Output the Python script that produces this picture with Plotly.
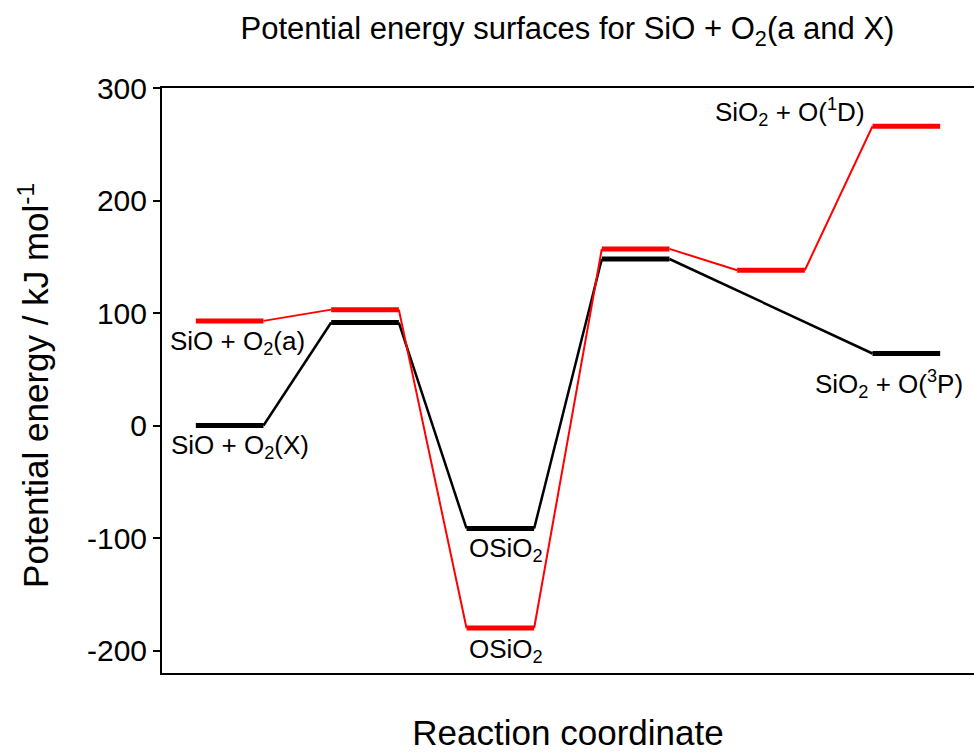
import plotly.graph_objects as go

# Reaction stages along the coordinate (1..6) and energies in kJ/mol
stages = [1, 2, 3, 4, 5, 6]
singlet_energy = [93, 103, -180, 157, 138, 266]       # SiO + O2(a) surface (red)
triplet_stages = [1, 2, 3, 4, 6]
triplet_energy = [0, 91.5, -91.5, 148, 64]            # SiO + O2(X) surface (black)

energy_ticks = [-200, -100, 0, 100, 200, 300]
energy_tick_text = ["-200", "-100", "0", "100", "200", "300"]

labels = [
    ("SiO + O<sub>2</sub>(a)", 1.06, 74),
    ("SiO + O<sub>2</sub>(X)", 1.08, -19),
    ("OSiO<sub>2</sub>", 3.04, -110),
    ("OSiO<sub>2</sub>", 3.04, -200),
    ("SiO<sub>2</sub> + O(<sup>1</sup>D)", 5.14, 279),
    ("SiO<sub>2</sub> + O(<sup>3</sup>P)", 5.87, 37),
]

HALF = 0.25  # half-width of each energy level bar


def surface_traces(xs, ys, color, conn_width):
    traces = []
    # thin connectors from the end of one level to the start of the next
    cx, cy = [], []
    for i in range(len(xs) - 1):
        cx += [xs[i] + HALF, xs[i + 1] - HALF, None]
        cy += [ys[i], ys[i + 1], None]
    traces.append(go.Scatter(x=cx, y=cy, mode="lines",
                             line=dict(color=color, width=conn_width),
                             hoverinfo="skip", showlegend=False))
    # thick horizontal levels
    lx, ly = [], []
    for x, y in zip(xs, ys):
        lx += [x - HALF, x + HALF, None]
        ly += [y, y, None]
    traces.append(go.Scatter(x=lx, y=ly, mode="lines",
                             line=dict(color=color, width=5),
                             showlegend=False))
    return traces


fig = go.Figure()
for t in surface_traces(triplet_stages, triplet_energy, "black", 2.5):
    fig.add_trace(t)
for t in surface_traces(stages, singlet_energy, "#ff0000", 2):
    fig.add_trace(t)

for text, x, y in labels:
    fig.add_annotation(x=x, y=y, text=text, showarrow=False,
                       xanchor="center", yanchor="middle",
                       font=dict(family="Arial, Liberation Sans", size=26, color="black"))

# vertical axis title, placed as a rotated annotation left of the tick labels
fig.add_annotation(text="Potential energy / kJ mol<sup>-1</sup>",
                   xref="paper", yref="paper", x=-0.158, y=0.492,
                   xanchor="center", yanchor="middle", textangle=-90,
                   showarrow=False, font=dict(size=35, color="black"))

fig.update_layout(
    width=974, height=752,
    margin=dict(l=162, r=0, t=88, b=79),
    paper_bgcolor="white", plot_bgcolor="white",
    font=dict(family="Arial, Liberation Sans", color="black"),
    title=dict(text="Potential energy surfaces for SiO + O<sub>2</sub>(a and X)",
               x=0.5826, xanchor="center", y=0.962, yanchor="middle",
               font=dict(size=31)),
    xaxis=dict(range=[0.5, 6.5], showticklabels=False, ticks="",
               showgrid=False, zeroline=False, showline=True, mirror=True,
               linecolor="black", linewidth=2,
               title=dict(text="Reaction coordinate", font=dict(size=35), standoff=51)),
    yaxis=dict(range=[-220, 300], tickvals=energy_ticks, ticktext=energy_tick_text,
               ticks="outside", ticklen=7, tickwidth=2, tickcolor="black",
               showgrid=False, zeroline=False, showline=True,
               linecolor="black", linewidth=2,
               tickfont=dict(size=30)),
)

fig.write_html("out.html")
